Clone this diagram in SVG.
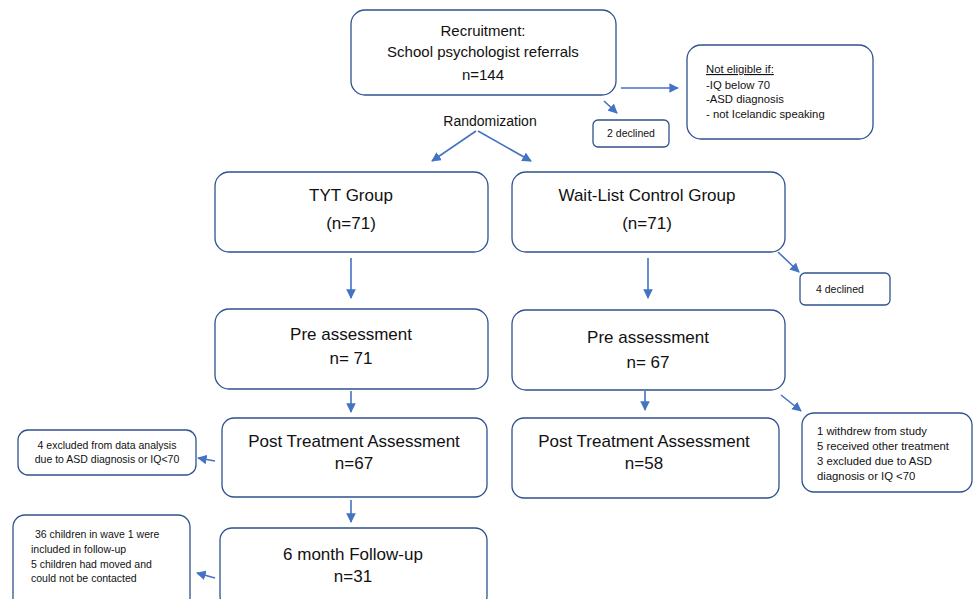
<svg xmlns="http://www.w3.org/2000/svg" width="973" height="599" viewBox="0 0 973 599">
<style>
.box{fill:#fff;stroke:#2F528F;stroke-width:1.3}
text{font-family:"Liberation Sans",Arial,sans-serif;fill:#111}
.big{font-size:17px;text-anchor:middle}
.mid{font-size:15px;text-anchor:middle}
.sm{font-size:10.5px}
.sm2{font-size:11.3px}
.ar{stroke:#4472C4;stroke-width:1.6;fill:none;marker-end:url(#ah)}
</style>
<defs>
<marker id="ah" viewBox="0 0 10 10" refX="9" refY="5" markerWidth="6" markerHeight="6" orient="auto" markerUnits="strokeWidth">
<path d="M0,0 L10,5 L0,10 z" fill="#4472C4"/>
</marker>
</defs>
<rect width="973" height="599" fill="#fff"/>
<g id="recruitment"><rect class="box" x="351" y="10" width="265" height="85" rx="14"/>
<text class="mid" x="483" y="36">Recruitment:</text>
<text class="mid" x="483" y="57">School psychologist  referrals</text>
<text class="mid" x="483" y="80">n=144</text></g>
<g id="noteligible"><rect class="box" x="687" y="45" width="186" height="94" rx="14"/>
<text class="sm2" x="706" y="73" text-decoration="underline">Not eligible if:</text>
<text class="sm2" x="706" y="89">-IQ below 70</text>
<text class="sm2" x="706" y="103">-ASD diagnosis</text>
<text class="sm2" x="706" y="118">- not Icelandic speaking</text></g>
<g id="declined2"><rect class="box" x="593" y="120" width="76" height="27" rx="5"/>
<text class="sm" x="631" y="137" text-anchor="middle">2 declined</text></g>
<g id="randomization"><text class="mid" x="490" y="126" style="font-size:14px">Randomization</text></g>
<g id="tyt"><rect class="box" x="215" y="172" width="273" height="80" rx="14"/>
<text class="big" x="351" y="201">TYT Group</text>
<text class="big" x="351" y="229">(n=71)</text></g>
<g id="waitlist"><rect class="box" x="512" y="172" width="273" height="80" rx="14"/>
<text class="big" x="647" y="201">Wait-List Control Group</text>
<text class="big" x="647" y="229">(n=71)</text></g>
<g id="declined4"><rect class="box" x="800" y="273" width="90" height="32" rx="5"/>
<text class="sm" x="816" y="293">4 declined</text></g>
<g id="pre_tyt"><rect class="box" x="215" y="309" width="273" height="80" rx="14"/>
<text class="big" x="351" y="340">Pre assessment</text>
<text class="big" x="351" y="364">n= 71</text></g>
<g id="pre_wl"><rect class="box" x="512" y="310" width="273" height="80" rx="14"/>
<text class="big" x="648" y="343">Pre assessment</text>
<text class="big" x="648" y="368">n= 67</text></g>
<g id="wl_excl"><rect class="box" x="802" y="413" width="170" height="79" rx="12"/>
<text class="sm2" x="817" y="435">1 withdrew from study</text>
<text class="sm2" x="817" y="450">5 received other treatment</text>
<text class="sm2" x="817" y="465">3 excluded due to ASD</text>
<text class="sm2" x="817" y="480">diagnosis or IQ &lt;70</text></g>
<g id="post_tyt"><rect class="box" x="222" y="418" width="265" height="79" rx="12"/>
<text class="big" x="354" y="447">Post Treatment Assessment</text>
<text class="big" x="354" y="469">n=67</text></g>
<g id="post_wl"><rect class="box" x="512" y="418" width="267" height="80" rx="12"/>
<text class="big" x="644" y="447">Post Treatment Assessment</text>
<text class="big" x="644" y="469">n=58</text></g>
<g id="tyt_excl"><rect class="box" x="18" y="430" width="178" height="45" rx="10"/>
<text class="sm" x="107" y="449" text-anchor="middle">4 excluded from data analysis</text>
<text class="sm" x="107" y="463" text-anchor="middle">due to ASD diagnosis or IQ&lt;70</text></g>
<g id="followup"><rect class="box" x="220" y="528" width="267" height="80" rx="12"/>
<text class="big" x="353" y="560">6 month Follow-up</text>
<text class="big" x="353" y="582">n=31</text></g>
<g id="fu_note"><rect class="box" x="13" y="515" width="177" height="95" rx="12"/>
<text class="sm" x="35" y="538">36 children in wave 1 were</text>
<text class="sm" x="31" y="553">included in follow-up</text>
<text class="sm" x="31" y="568">5 children had moved and</text>
<text class="sm" x="31" y="582">could not be contacted</text></g>
<g id="connectors">
<path class="ar" d="M621,88 L678,88"/>
<path class="ar" d="M604,101 L617,113"/>
<path class="ar" d="M476,131 L432,161"/>
<path class="ar" d="M478,131 L531,161"/>
<path class="ar" d="M351,258 L351,298"/>
<path class="ar" d="M648,258 L648,298"/>
<path class="ar" d="M778,252 L799,272"/>
<path class="ar" d="M351,391 L351,412"/>
<path class="ar" d="M645,391 L645,410"/>
<path class="ar" d="M781,395 L801,411"/>
<path class="ar" d="M215,461 L198,458"/>
<path class="ar" d="M351,500 L351,522"/>
<path class="ar" d="M215,578 L197,573"/>
</g>
</svg>
